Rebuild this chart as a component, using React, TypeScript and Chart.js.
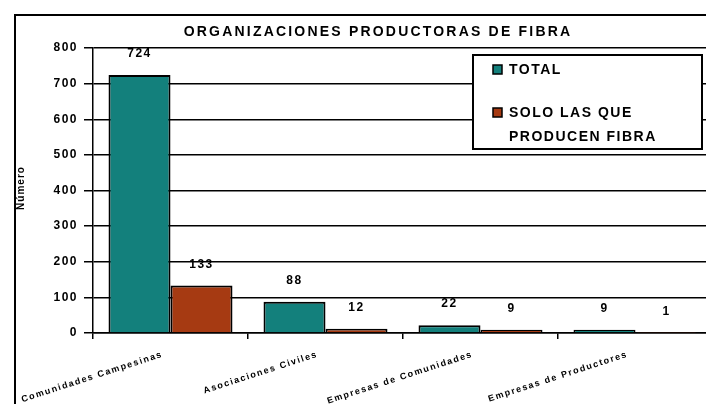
import React, { useEffect, useRef } from 'react';
import { Chart, registerables } from 'chart.js';

Chart.register(...registerables);

const TITLE = 'ORGANIZACIONES PRODUCTORAS DE FIBRA';
const Y_TITLE = 'Número';
const CATEGORIES = [
  'Comunidades Campesinas',
  'Asociaciones Civiles',
  'Empresas de Comunidades',
  'Empresas de Productores',
];
const TOTAL = [724, 88, 22, 9];
const SOLO_PRODUCEN = [133, 12, 9, 1];
const SERIES_TOTAL = 'TOTAL';
const SERIES_SOLO = ['SOLO LAS QUE', 'PRODUCEN FIBRA'];
const Y_MIN = 0;
const Y_MAX = 800;
const Y_STEP = 100;

const TEAL = '#13807c';
const RED = '#a63a12';
const FONT = 'Arial, "Liberation Sans", sans-serif';

export default function App() {
  const ref = useRef<HTMLCanvasElement | null>(null);

  useEffect(() => {
    const canvas = ref.current;
    if (!canvas) return;

    const spacing = {
      id: 'spacing',
      beforeUpdate(chart: any) {
        chart.ctx.letterSpacing = '1.5px';
      },
      beforeDraw(chart: any) {
        chart.ctx.letterSpacing = '1.5px';
      },
    };

    const decor = {
      id: 'decor',
      beforeDraw(chart: any) {
        const ctx = chart.ctx;
        ctx.save();
        ctx.fillStyle = '#fff';
        ctx.fillRect(0, 0, chart.width, chart.height);
        ctx.strokeStyle = '#000';
        ctx.lineWidth = 2;
        ctx.strokeRect(15, 15, 900, 900);
        // title
        ctx.fillStyle = '#000';
        ctx.font = 'bold 14px ' + FONT;
        ctx.letterSpacing = '2.2px';
        ctx.textAlign = 'center';
        ctx.textBaseline = 'middle';
        ctx.fillText(TITLE, 378, 32);
        // y title
        ctx.translate(21, 188);
        ctx.rotate(-Math.PI / 2);
        ctx.font = 'bold 10px ' + FONT;
        ctx.letterSpacing = '1px';
        ctx.fillText(Y_TITLE, 0, 0);
        ctx.restore();
        chart.ctx.letterSpacing = '1.5px';
      },
      afterDatasetsDraw(chart: any) {
        const ctx = chart.ctx;
        ctx.save();
        ctx.fillStyle = '#000';
        ctx.font = 'bold 12px ' + FONT;
        ctx.letterSpacing = '1.5px';
        ctx.textAlign = 'center';
        ctx.textBaseline = 'middle';
        chart.data.datasets.forEach((ds: any, i: number) => {
          const meta = chart.getDatasetMeta(i);
          meta.data.forEach((el: any, j: number) => {
            ctx.fillText(String(ds.data[j]), el.x, el.y - 21);
          });
        });
        ctx.restore();
      },
      afterDraw(chart: any) {
        const ctx = chart.ctx;
        ctx.save();
        // legend box
        ctx.fillStyle = '#fff';
        ctx.fillRect(473, 55, 229, 94);
        ctx.strokeStyle = '#000';
        ctx.lineWidth = 2;
        ctx.strokeRect(473, 55, 229, 94);
        ctx.lineWidth = 1.5;
        ctx.fillStyle = TEAL;
        ctx.fillRect(493, 65, 9, 9);
        ctx.strokeRect(493, 65, 9, 9);
        ctx.fillStyle = RED;
        ctx.fillRect(493, 108, 9, 9);
        ctx.strokeRect(493, 108, 9, 9);
        ctx.fillStyle = '#000';
        ctx.font = 'bold 14px ' + FONT;
        ctx.letterSpacing = '1.5px';
        ctx.textAlign = 'left';
        ctx.textBaseline = 'middle';
        ctx.fillText(SERIES_TOTAL, 509, 70);
        ctx.fillText(SERIES_SOLO[0], 509, 113);
        ctx.fillText(SERIES_SOLO[1], 509, 137);
        ctx.restore();
      },
    };

    const chart = new Chart(canvas, {
      type: 'bar',
      data: {
        labels: CATEGORIES,
        datasets: [
          {
            label: SERIES_TOTAL,
            data: TOTAL,
            backgroundColor: TEAL,
            borderColor: '#000',
            borderWidth: 2,
            categoryPercentage: 0.8,
            barPercentage: 1,
          },
          {
            label: SERIES_SOLO.join(' '),
            data: SOLO_PRODUCEN,
            backgroundColor: RED,
            borderColor: '#000',
            borderWidth: 2,
            categoryPercentage: 0.8,
            barPercentage: 1,
          },
        ],
      },
      options: {
        responsive: false,
        animation: false,
        devicePixelRatio: 1,
        layout: { padding: { left: 0, right: 7, top: 48, bottom: 0 } },
        plugins: {
          legend: { display: false },
          tooltip: { enabled: false },
          title: { display: false },
        },
        scales: {
          x: {
            afterFit(s: any) {
              s.height = 71;
              s.paddingLeft = 0;
              s.paddingRight = 0;
            },
            grid: {
              display: true,
              drawOnChartArea: false,
              drawTicks: true,
              tickLength: 6,
              color: '#000',
              lineWidth: 1.5,
              offset: true,
            },
            border: { display: true, color: '#000', width: 1.5 },
            ticks: {
              autoSkip: false,
              minRotation: 18,
              maxRotation: 18,
              padding: 10,
              labelOffset: -8,
              color: '#000',
              font: { family: FONT, size: 9, weight: 'bold' },
            },
          },
          y: {
            min: Y_MIN,
            max: Y_MAX,
            afterFit(s: any) {
              s.width = 93;
            },
            grid: {
              color: '#000',
              lineWidth: 1.5,
              drawTicks: true,
              tickLength: 9,
            },
            border: { display: true, color: '#000', width: 1.5 },
            ticks: {
              stepSize: Y_STEP,
              padding: 6,
              color: '#000',
              font: { family: FONT, size: 12, weight: 'bold' },
            },
          },
        },
      },
      plugins: [spacing, decor],
    });

    return () => chart.destroy();
  }, []);

  return (
    <div style={{ position: 'fixed', left: 0, top: 0, width: 706, height: 404, overflow: 'hidden', background: '#fff' }}>
      <canvas ref={ref} width={720} height={404} style={{ display: 'block', width: 720, height: 404 }} />
    </div>
  );
}
